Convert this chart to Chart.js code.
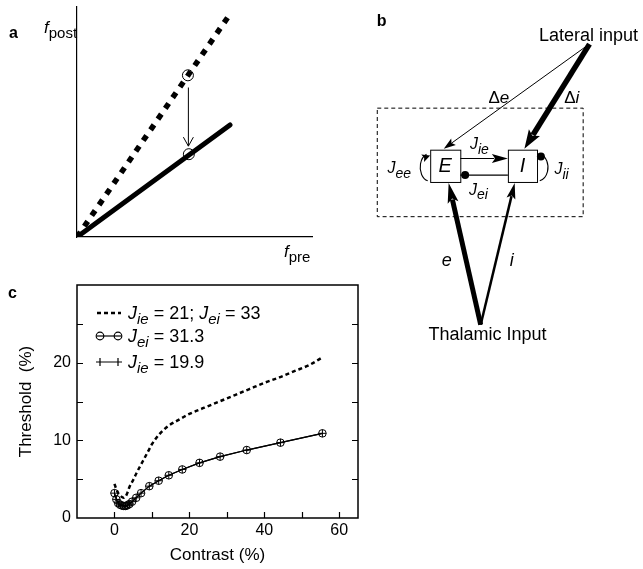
<!DOCTYPE html>
<html>
<head>
<meta charset="utf-8">
<script src="https://cdn.jsdelivr.net/npm/chart.js@4.4.1/dist/chart.umd.min.js"></script>
<style>
  body { margin: 0; background: #fff; width: 643px; height: 569px; position: relative; overflow: hidden; }
  canvas { position: absolute; }
</style>
</head>
<body>
<canvas id="panelA" width="365" height="280" style="left:0;top:0"></canvas>
<canvas id="panelB" width="278" height="360" style="left:365px;top:0"></canvas>
<canvas id="panelC" width="365" height="289" style="left:0;top:280px"></canvas>
<script>
// --- panel a: rate transfer lines ---
const dashedX = [0, 6.43], dashedY = [0, 9.57];
const solidX = [0, 6.51], solidY = [0, 4.87];
const markX = [4.72, 4.76], markY = [7.03, 3.6];
const dropArrow = [4.74, 6.5, 3.95];   // x, from y, to y

// --- panel b: circuit diagram (diagram units) ---
const boxes = [['E', 428, 149, 459, 182], ['I', 508, 149, 538, 182]];
// x0, y0, x1, y1, line width, head length, head half width
const arrows = [
  [589, 43, 442, 148, 1, 12, 4],
  [592, 41, 525, 148, 5.5, 19, 6.5],
  [459, 158, 508, 158, 1.2, 16, 4.5],
  [480, 328, 447, 183, 5, 20, 5.5],
  [480, 328, 515, 183, 2.5, 16, 4.5]
];
const eiLine = [508, 175, 459, 175];
const dotX = [464, 542], dotY = [175, 156];
const frameBox = [373, 106, 585, 217];

// --- panel c: threshold vs contrast ---
const contrastDotted = [0, 0.5, 1, 1.5, 2, 2.5, 3, 3.5, 4, 5, 6, 7, 8, 9, 10, 11, 12, 13, 14.5, 17, 20, 24, 28, 32, 36, 40, 44, 48, 52, 55.6];
const thresholdDotted = [4.4, 3.7, 3.2, 2.9, 2.7, 2.6, 2.8, 3.3, 4.0, 4.9, 5.9, 6.8, 7.7, 8.6, 9.5, 10.2, 10.8, 11.3, 11.9, 12.6, 13.4, 14.2, 15.0, 15.8, 16.6, 17.4, 18.1, 18.9, 19.7, 20.7];
const contrastMarked = [0, 0.5, 1, 1.5, 2, 2.5, 3, 3.5, 4, 4.7, 5.8, 7.1, 9.3, 11.8, 14.5, 18.1, 22.7, 28.2, 35.3, 44.3, 55.5];
const thresholdJei = [3.2, 2.4, 1.9, 1.7, 1.6, 1.55, 1.55, 1.65, 1.8, 2.1, 2.6, 3.2, 4.1, 4.8, 5.5, 6.25, 7.1, 7.9, 8.75, 9.7, 10.9];
const thresholdJie = [3.2, 2.4, 1.9, 1.7, 1.6, 1.55, 1.55, 1.65, 1.8, 2.1, 2.6, 3.2, 4.1, 4.8, 5.5, 6.25, 7.1, 7.9, 8.75, 9.7, 10.9];
const xTickMarks = [0, 10, 20, 30, 40, 50, 60];
const yTickMarks = [5, 10, 15, 20, 25];

const FONT = '"Liberation Sans", Arial, Helvetica, sans-serif';
Chart.defaults.font.family = FONT;
Chart.defaults.color = '#000';

const pts = (xs, ys) => xs.map((x, i) => ({ x: x, y: ys[i] }));
const noPad = s => { s.paddingTop = 0; s.paddingBottom = 0; s.paddingLeft = 0; s.paddingRight = 0; };

// rich text: parts of [text, style]; n normal, i italic, b bold, s italic sub, p upright sub
function fontFor(style, size) {
  const sub = style === 's' || style === 'p';
  const px = sub ? Math.round(size * 0.86) : size;
  const it = style === 'i' || style === 's';
  return (it ? 'italic ' : '') + (style === 'b' ? 'bold ' : '') + px + 'px ' + FONT;
}
function richText(ctx, x, y, parts, size, align) {
  ctx.textBaseline = 'alphabetic';
  ctx.textAlign = 'left';
  ctx.fillStyle = '#000';
  let total = 0;
  parts.forEach(([t, s]) => { ctx.font = fontFor(s, size); total += ctx.measureText(t).width; });
  let cx = align === 'center' ? x - total / 2 : x;
  parts.forEach(([t, s]) => {
    ctx.font = fontFor(s, size);
    const dy = (s === 's' || s === 'p') ? size * 0.3 : 0;
    ctx.fillText(t, cx, y + dy);
    cx += ctx.measureText(t).width;
  });
}

function arrowHead(ctx, tx, ty, ang, hl, hw) {
  const c = Math.cos(ang), s = Math.sin(ang);
  const bx = tx - c * hl, by = ty - s * hl;
  ctx.beginPath();
  ctx.moveTo(tx, ty);
  ctx.lineTo(bx - s * hw, by + c * hw);
  ctx.lineTo(tx - c * hl * 0.8, ty - s * hl * 0.8);
  ctx.lineTo(bx + s * hw, by - c * hw);
  ctx.closePath();
  ctx.fill();
}

// ---------- panel a ----------
const panelAPlugin = {
  id: 'panelA',
  afterDraw(chart) {
    const { ctx, scales: { x, y } } = chart;
    ctx.save();
    // drop arrow between the two operating points
    const ax = x.getPixelForValue(dropArrow[0]);
    const y0 = y.getPixelForValue(dropArrow[1]), y1 = y.getPixelForValue(dropArrow[2]);
    ctx.strokeStyle = '#000'; ctx.lineWidth = 1;
    ctx.beginPath();
    ctx.moveTo(ax, y0); ctx.lineTo(ax, y1);
    ctx.moveTo(ax - 5, y1 - 9); ctx.lineTo(ax, y1); ctx.lineTo(ax + 5, y1 - 9);
    ctx.stroke();
    richText(ctx, 9, 38, [['a', 'b']], 16);
    richText(ctx, 44, 33, [['f', 'i'], ['post', 'p']], 17);
    richText(ctx, 284, 257, [['f', 'i'], ['pre', 'p']], 17);
    ctx.restore();
  }
};

new Chart(document.getElementById('panelA'), {
  type: 'scatter',
  data: {
    datasets: [
      { data: pts(dashedX, dashedY), showLine: true, borderColor: '#000', borderWidth: 5.5, borderDash: [6, 7], borderCapStyle: 'butt', pointRadius: 0 },
      { data: pts(solidX, solidY), showLine: true, borderColor: '#000', borderWidth: 5, borderCapStyle: 'round', pointRadius: 0 },
      { data: pts(markX, markY), showLine: false, pointRadius: 5.5, pointBorderWidth: 1, pointBorderColor: '#000', pointBackgroundColor: 'rgba(255,255,255,0)' }
    ]
  },
  options: {
    responsive: false, animation: false, devicePixelRatio: 1,
    layout: { padding: { top: 7, right: 53, left: 0, bottom: 0 } },
    plugins: { legend: { display: false }, tooltip: { enabled: false } },
    scales: {
      x: { type: 'linear', min: 0, max: 10, grid: { display: false }, ticks: { display: false },
           border: { display: true, color: '#000', width: 1.2 }, afterFit: s => { noPad(s); s.height = 43; } },
      y: { type: 'linear', min: 0, max: 10, grid: { display: false }, ticks: { display: false },
           border: { display: true, color: '#000', width: 1.2 }, afterFit: s => { noPad(s); s.width = 77; } }
    }
  },
  plugins: [panelAPlugin]
});

// ---------- panel b ----------
const panelBPlugin = {
  id: 'panelB',
  beforeDatasetsDraw(chart) {
    const { ctx, scales: { x, y } } = chart;
    const X = v => x.getPixelForValue(v), Y = v => y.getPixelForValue(v);
    ctx.save();
    ctx.strokeStyle = '#000'; ctx.fillStyle = '#000';
    // dashed enclosure
    ctx.lineWidth = 1; ctx.setLineDash([4, 3]);
    ctx.strokeRect(X(frameBox[0]) + 0.5, Y(frameBox[1]) + 0.5, X(frameBox[2]) - X(frameBox[0]), Y(frameBox[3]) - Y(frameBox[1]));
    ctx.setLineDash([]);
    // population boxes
    ctx.lineWidth = 1;
    boxes.forEach(([lab, x0, y0, x1, y1]) => {
      ctx.strokeRect(X(x0) + 0.5, Y(y0) + 0.5, X(x1) - X(x0), Y(y1) - Y(y0));
      ctx.font = 'italic 20px ' + FONT;
      ctx.textAlign = 'center'; ctx.textBaseline = 'middle';
      ctx.fillText(lab, (X(x0) + X(x1)) / 2, (Y(y0) + Y(y1)) / 2 + 1);
    });
    // inhibitory line E <- I
    ctx.lineWidth = 1.2;
    ctx.beginPath(); ctx.moveTo(X(eiLine[0]), Y(eiLine[1])); ctx.lineTo(X(eiLine[2]), Y(eiLine[3])); ctx.stroke();
    // self loops
    ctx.lineWidth = 1.1;
    ctx.beginPath(); ctx.ellipse(X(428), Y(167), 10, 14, 0, Math.PI * 0.58, Math.PI * 1.38); ctx.stroke();
    arrowHead(ctx, X(428), Y(155), -0.35, 8, 4);
    ctx.beginPath(); ctx.ellipse(X(538), Y(167), 11, 14, 0, -Math.PI * 0.4, Math.PI * 0.42); ctx.stroke();
    // arrows
    ctx.lineCap = 'butt';
    arrows.forEach(([x0, y0, x1, y1, w, hl, hw]) => {
      const px0 = X(x0), py0 = Y(y0), px1 = X(x1), py1 = Y(y1);
      const ang = Math.atan2(py1 - py0, px1 - px0);
      ctx.lineWidth = w;
      ctx.beginPath();
      ctx.moveTo(px0, py0);
      ctx.lineTo(px1 - Math.cos(ang) * hl * 0.85, py1 - Math.sin(ang) * hl * 0.85);
      ctx.stroke();
      arrowHead(ctx, px1, py1, ang, hl, hw);
    });
    // labels
    const T = (px, py, parts, size, align) => richText(ctx, X(px), Y(py), parts, size, align);
    T(373, 23, [['b', 'b']], 16);
    T(540, 38, [['Lateral input', 'n']], 18);
    T(487, 344, [['Thalamic Input', 'n']], 18, 'center');
    T(488, 101, [['\u0394', 'n'], ['e', 'i']], 17);
    T(566, 101, [['\u0394', 'n'], ['i', 'i']], 17);
    T(469, 148, [['J', 'i'], ['ie', 's']], 16);
    T(468, 195, [['J', 'i'], ['ei', 's']], 16);
    T(384, 173, [['J', 'i'], ['ee', 's']], 16);
    T(556, 174, [['J', 'i'], ['ii', 's']], 16);
    T(440, 268, [['e', 'i']], 18);
    T(510, 268, [['i', 'i']], 18);
    ctx.restore();
  }
};

new Chart(document.getElementById('panelB'), {
  type: 'scatter',
  data: {
    datasets: [
      { data: pts(dotX, dotY), pointRadius: 4, pointBackgroundColor: '#000', pointBorderColor: '#000', pointBorderWidth: 0 }
    ]
  },
  options: {
    responsive: false, animation: false, devicePixelRatio: 1,
    layout: { padding: 0 },
    plugins: { legend: { display: false }, tooltip: { enabled: false } },
    scales: {
      x: { type: 'linear', min: 365, max: 643, display: false },
      y: { type: 'linear', min: 0, max: 360, reverse: true, display: false }
    }
  },
  plugins: [panelBPlugin]
});

// ---------- panel c ----------
const panelCPlugin = {
  id: 'panelC',
  afterDraw(chart) {
    const { ctx, chartArea: a, scales: { x, y } } = chart;
    ctx.save();
    ctx.strokeStyle = '#000';
    ctx.lineWidth = 1.5;
    ctx.strokeRect(a.left, a.top, a.right - a.left, a.bottom - a.top);
    ctx.lineWidth = 1.2;
    ctx.beginPath();
    xTickMarks.forEach(v => { const px = Math.round(x.getPixelForValue(v)) + 0.5; ctx.moveTo(px, a.bottom); ctx.lineTo(px, a.bottom - 6); });
    yTickMarks.forEach(v => {
      const py = Math.round(y.getPixelForValue(v)) + 0.5;
      ctx.moveTo(a.left, py); ctx.lineTo(a.left + 6, py);
      ctx.moveTo(a.right, py); ctx.lineTo(a.right - 6, py);
    });
    ctx.stroke();

    richText(ctx, 8, 18, [['c', 'b']], 16);

    // legend
    const lx = a.left, ly = a.top;
    ctx.lineWidth = 2.5; ctx.setLineDash([4, 3]);
    ctx.beginPath(); ctx.moveTo(lx + 20, ly + 28); ctx.lineTo(lx + 44, ly + 28); ctx.stroke();
    ctx.setLineDash([]);
    ctx.lineWidth = 1.2;
    ctx.beginPath(); ctx.moveTo(lx + 20, ly + 51); ctx.lineTo(lx + 44, ly + 51); ctx.stroke();
    [lx + 23, lx + 41].forEach(cx => { ctx.beginPath(); ctx.arc(cx, ly + 51, 3.8, 0, Math.PI * 2); ctx.stroke(); });
    ctx.beginPath(); ctx.moveTo(lx + 19, ly + 77); ctx.lineTo(lx + 45, ly + 77);
    [lx + 23, lx + 41].forEach(cx => { ctx.moveTo(cx, ly + 73); ctx.lineTo(cx, ly + 81); });
    ctx.stroke();
    richText(ctx, lx + 51, ly + 34, [['J', 'i'], ['ie', 's'], [' = 21; ', 'n'], ['J', 'i'], ['ei', 's'], [' = 33', 'n']], 18);
    richText(ctx, lx + 51, ly + 57, [['J', 'i'], ['ei', 's'], [' = 31.3', 'n']], 18);
    richText(ctx, lx + 51, ly + 83, [['J', 'i'], ['ie', 's'], [' = 19.9', 'n']], 18);
    ctx.restore();
  }
};

new Chart(document.getElementById('panelC'), {
  type: 'scatter',
  data: {
    datasets: [
      { data: pts(contrastDotted, thresholdDotted), showLine: true, cubicInterpolationMode: 'monotone', borderColor: '#000', borderWidth: 2.5, borderDash: [4, 3], pointRadius: 0 },
      { data: pts(contrastMarked, thresholdJei), showLine: true, borderColor: '#000', borderWidth: 1.2, pointStyle: 'circle', pointRadius: 3.8,
        pointBorderWidth: 1, pointBorderColor: '#000', pointBackgroundColor: 'rgba(255,255,255,0)' },
      { data: pts(contrastMarked, thresholdJie), showLine: true, borderColor: '#000', borderWidth: 1.2, pointStyle: 'cross', pointRadius: 3.8,
        pointBorderWidth: 1, pointBorderColor: '#000' }
    ]
  },
  options: {
    responsive: false, animation: false, devicePixelRatio: 1,
    layout: { padding: { top: 5, right: 7, left: 0, bottom: 0 } },
    plugins: { legend: { display: false }, tooltip: { enabled: false } },
    scales: {
      x: {
        type: 'linear', min: -10, max: 65,
        grid: { display: false, drawTicks: false }, border: { display: false },
        ticks: { stepSize: 10, includeBounds: false, autoSkip: false, maxRotation: 0, padding: 3, font: { size: 16 },
                 callback: v => (v >= 0 && v % 20 === 0) ? v : '' },
        title: { display: true, text: 'Contrast (%)', font: { size: 17 }, padding: { top: 0, bottom: 3 } },
        afterFit: s => { noPad(s); s.height = 51; }
      },
      y: {
        type: 'linear', min: 0, max: 30,
        grid: { display: false, drawTicks: false }, border: { display: false },
        ticks: { stepSize: 5, autoSkip: false, padding: 6, font: { size: 16 },
                 callback: v => (v % 10 === 0 && v < 30) ? v : '' },
        title: { display: true, text: 'Threshold  (%)', font: { size: 17 }, padding: { top: 16, bottom: 0 } },
        afterFit: s => { noPad(s); s.width = 77; }
      }
    }
  },
  plugins: [panelCPlugin]
});
</script>
</body>
</html>
